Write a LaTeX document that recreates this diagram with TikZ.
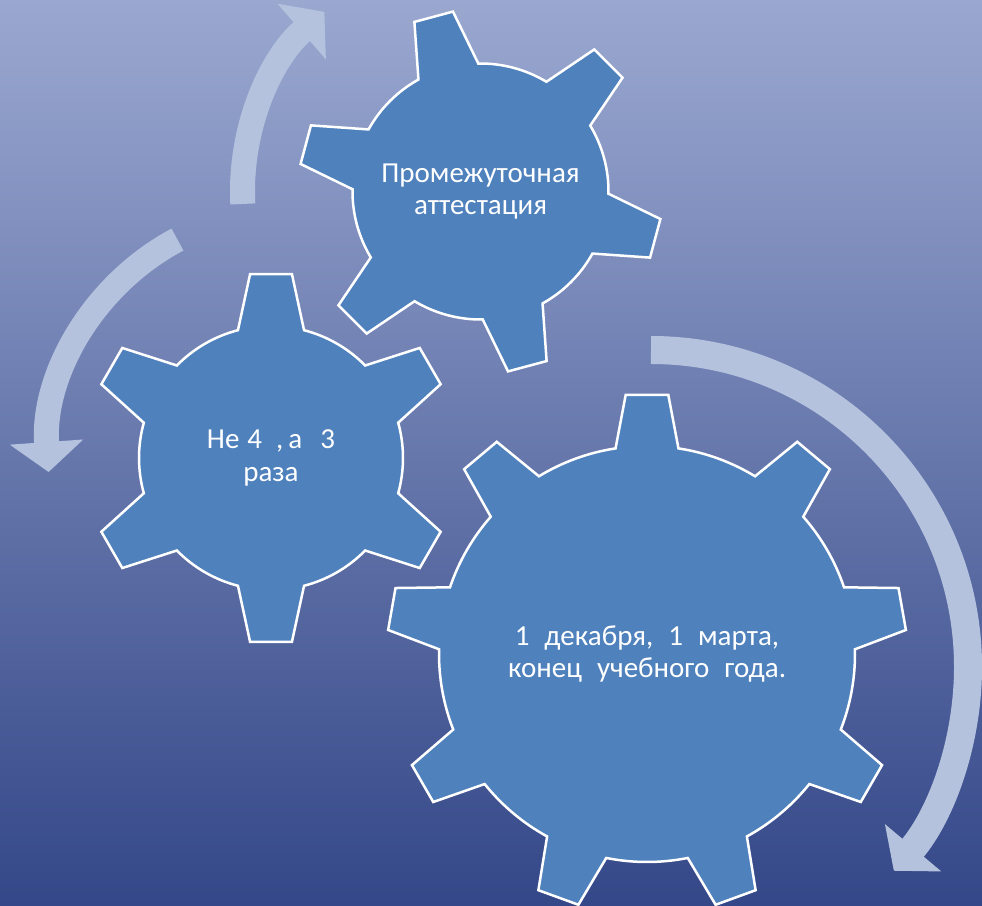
\documentclass[tikz,border=0pt]{standalone}
\usepackage{fontspec}
\setmainfont{Carlito}
\usetikzlibrary{arrows.meta}

\definecolor{gearblue}{RGB}{79,129,189}
\definecolor{arrowgrey}{RGB}{180,194,222}
\definecolor{bgtop}{RGB}{154,168,208}
\definecolor{bgmid}{RGB}{110,124,176}
\definecolor{bgbot}{RGB}{52,71,136}

% #1 centre, #2 teeth, #3 first tooth angle, #4 outer radius, #5 inner radius,
% #6 half angle at tip, #7 half angle at root
\newcommand{\gear}[7]{%
  \begin{scope}[shift={(#1)}]
  \pgfmathsetmacro{\gstep}{360/#2}
  \draw[gear] ({#3-#7}:#5)
    \foreach \k [evaluate=\k as \a using {#3+(\k-1)*\gstep}] in {1,...,#2} {
      -- ({\a-#6}:#4) -- ({\a+#6}:#4) -- ({\a+#7}:#5)
      arc[start angle={\a+#7}, end angle={\a+\gstep-#7}, radius=#5]
    } -- cycle;
  \end{scope}}

\begin{document}
\begin{tikzpicture}[x=1pt,y=1pt]
\tikzstyle{gear}=[fill=gearblue, draw=white, line width=2.5pt, line join=miter]
\tikzstyle{gtext}=[text=white, align=center, font=\fontsize{29}{32.5}\selectfont]
\tikzstyle{turn}=[draw=arrowgrey, line width=25pt, -{Triangle[width=72pt,length=30pt]}]

\shade[top color=bgtop, middle color=bgmid, bottom color=bgbot] (0,0) rectangle (982,905);
\useasboundingbox (0,0) rectangle (982,905);

\coordinate (G1) at (480.5,713.5);
\coordinate (G2) at (271,447);
\coordinate (G3) at (647,251);

\coordinate (o1) at (480.5,713.5);
\coordinate (o2) at (292,450);
\coordinate (o3) at (651,238);

\draw[turn] (o1) ++(183:238) arc[start angle=183, end angle=131, radius=238];
\draw[turn] (o2) ++(118:244) arc[start angle=118, end angle=184, radius=244];
\draw[turn, line width=28pt] (o3) ++(90:317) arc[start angle=90, end angle=-40, radius=317];

\gear{G1}{6}{105}{182}{128}{6.3}{14}
\gear{G2}{6}{90}{185}{132}{6.5}{14.5}
\gear{G3}{9}{90}{260}{208}{4.7}{8.7}

\node[gtext] (att) at (G1) {Промежуточная\\аттестация};
\node[gtext] (times) at (G2) {Не\hspace{8pt}4\hspace{14pt},\hspace{5pt}а\hspace{18pt}3\\раза};
\node[gtext] (dates) at (G3) {1\hspace{15pt}декабря,\hspace{15pt}1\hspace{15pt}марта,\\конец\hspace{15pt}учебного\hspace{15pt}года.};

\end{tikzpicture}
\end{document}
